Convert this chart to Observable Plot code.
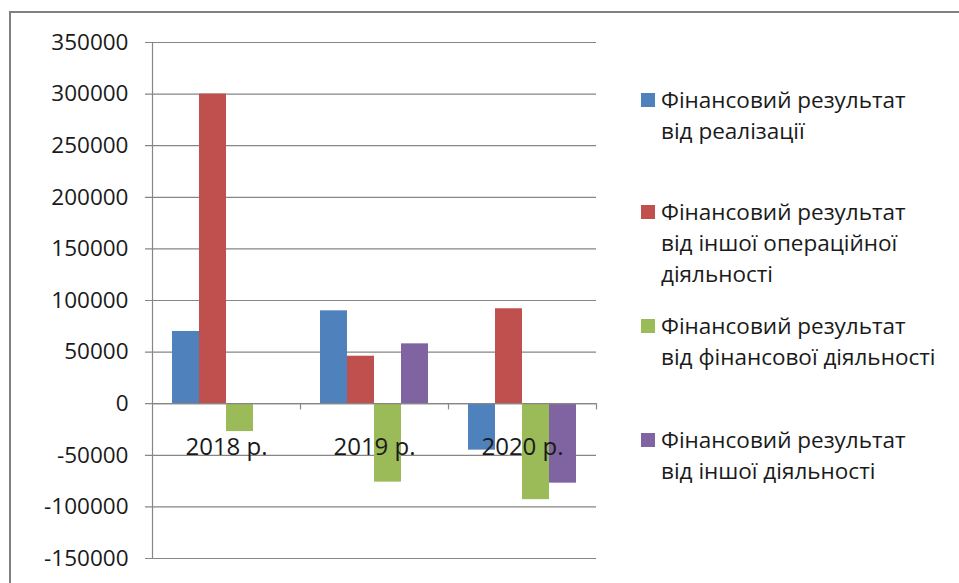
<!DOCTYPE html>
<html>
<head>
<meta charset="utf-8">
<script src="https://cdn.jsdelivr.net/npm/d3@7"></script>
<script src="https://cdn.jsdelivr.net/npm/@observablehq/plot@0.6"></script>
<style>
  html, body { margin: 0; padding: 0; background: #fff; }
  #wrap { position: relative; width: 959px; height: 583px; overflow: hidden; font-family: "Open Sans", sans-serif; }
  #border { position: absolute; left: 9px; top: 11px; width: 1000px; height: 700px; border-top: 2px solid #808080; border-left: 2px solid #808080; box-sizing: border-box; }
  #chart { position: absolute; left: 0; top: 0; }
  .item { position: absolute; left: 641px; color: #1a1a1a; font-size: 22.5px; line-height: 31px; }
  .sw { position: absolute; left: 0; top: 9px; width: 14px; height: 14px; }
  .txt { position: absolute; left: 20px; top: 0; white-space: nowrap; }
</style>
</head>
<body>
<div id="wrap">
  <div id="border"></div>
  <div id="chart"></div>
  <div id="legend"></div>
</div>
<script>
const years = ["2018 р.", "2019 р.", "2020 р."];
const seriesNames = [
  "Фінансовий результат від реалізації",
  "Фінансовий результат від іншої операційної діяльності",
  "Фінансовий результат від фінансової діяльності",
  "Фінансовий результат від іншої діяльності"
];
const legendLines = [
  ["Фінансовий результат", "від реалізації"],
  ["Фінансовий результат", "від іншої операційної", "діяльності"],
  ["Фінансовий результат", "від фінансової діяльності"],
  ["Фінансовий результат", "від іншої діяльності"]
];
const realization = [70000, 90000, -45000];
const otherOperating = [300000, 46000, 92000];
const financial = [-27000, -76000, -93000];
const otherActivity = [0, 58000, -77000];
const yTicks = [-150000, -100000, -50000, 0, 50000, 100000, 150000, 200000, 250000, 300000, 350000];
const colors = ["#4F81BD", "#C0504D", "#9BBB59", "#8064A2"];

const seriesValues = [realization, otherOperating, financial, otherActivity];
const rows = [];
seriesValues.forEach((vals, s) => vals.forEach((v, i) => rows.push({year: years[i], series: s, value: v})));

const step = 148;
const barW = 27;
const inset = (step - barW) / 2;
const plotW = 959 - 152 - 363;
const firstYear = () => years[0];

const barMarks = seriesValues.map((vals, s) =>
  Plot.barY(rows.filter(r => r.series === s), {
    x: "year", y: "value", fill: colors[s],
    insetLeft: inset, insetRight: inset, dx: (s - 1.5) * barW
  })
);

const chart = Plot.plot({
  width: 959,
  height: 583,
  marginLeft: 152,
  marginRight: 363,
  marginTop: 42,
  marginBottom: 25,
  style: {fontFamily: "Open Sans, sans-serif", background: "transparent"},
  x: {domain: years, padding: 0, axis: null},
  y: {domain: [-150000, 350000], axis: null},
  marks: [
    Plot.ruleY(yTicks, {stroke: "#868686", strokeWidth: 1.2, insetLeft: -7}),
    Plot.ruleX([years[0]], {y1: -150000, y2: 350000, dx: -step / 2, stroke: "#868686", strokeWidth: 1.2}),
    ...barMarks,
    Plot.ruleY([0], {stroke: "#868686", strokeWidth: 1.2}),
    Plot.ruleX(years, {y1: 0, y2: -6000, dx: step / 2, stroke: "#868686", strokeWidth: 1.2}),
    Plot.text(yTicks, {y: d => d, x: firstYear, dx: -step / 2 - 24, text: d => String(d), textAnchor: "end", fontSize: 22.5, fill: "#1a1a1a"}),
    Plot.text(years, {x: d => d, y: 0, dy: 44, text: d => d, fontSize: 24, fill: "#1a1a1a"})
  ]
});
document.getElementById("chart").appendChild(chart);

const legendTops = [84, 196, 310, 424];
const legend = document.getElementById("legend");
legendLines.forEach((lines, s) => {
  const item = document.createElement("div");
  item.className = "item";
  item.style.top = legendTops[s] + "px";
  const sw = document.createElement("div");
  sw.className = "sw";
  sw.style.background = colors[s];
  const txt = document.createElement("div");
  txt.className = "txt";
  txt.innerHTML = lines.join("<br>");
  txt.title = seriesNames[s];
  item.appendChild(sw);
  item.appendChild(txt);
  legend.appendChild(item);
});
</script>
</body>
</html>
